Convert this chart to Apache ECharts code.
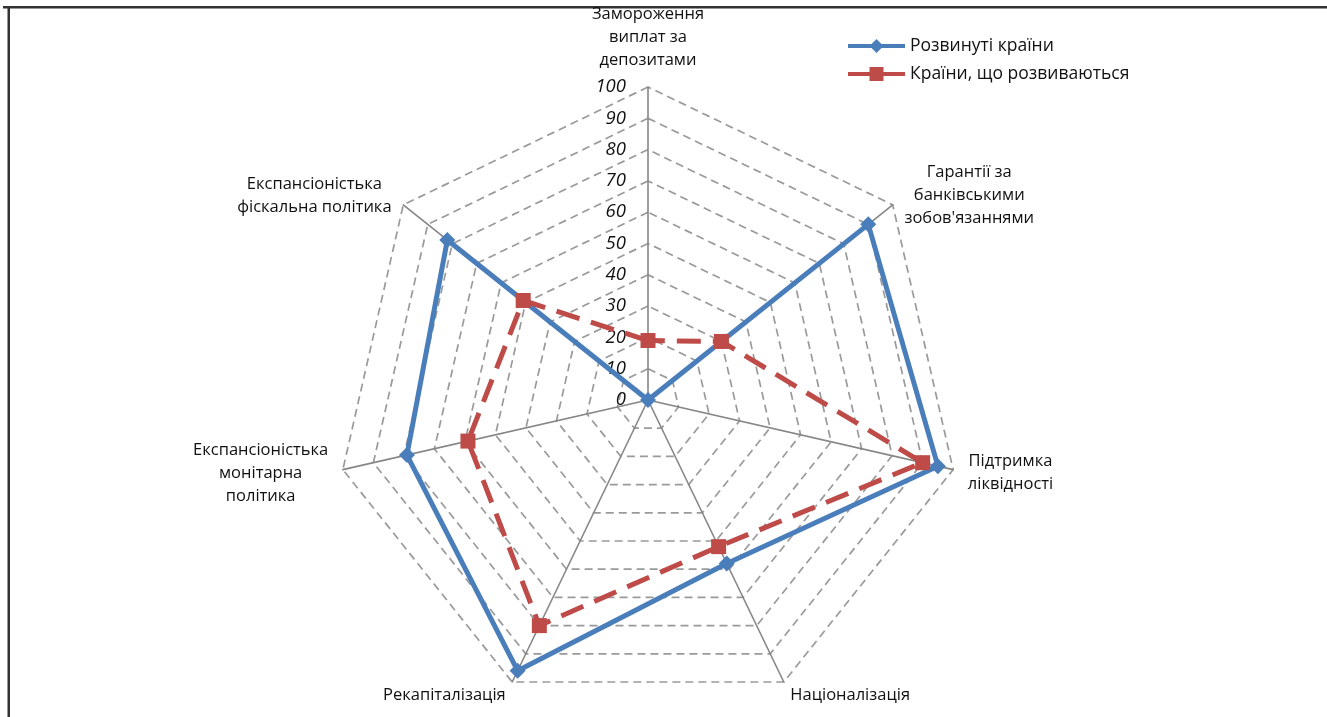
<!DOCTYPE html>
<html>
<head>
<meta charset="utf-8">
<script src="https://cdn.jsdelivr.net/npm/echarts@6/dist/echarts.min.js"></script>
<style>
  html, body { margin: 0; padding: 0; background: #ffffff; }
  #chart { width: 1327px; height: 717px; }
</style>
</head>
<body>
<div id="chart"></div>
<script>
// Anti-crisis measures, listed counter-clockwise from the top axis
const categories = [
  'Замороження\nвиплат за\nдепозитами',
  'Експансіоністька\nфіскальна політика',
  'Експансіоністька\nмонітарна\nполітика',
  'Рекапіталізація',
  'Націоналізація',
  'Підтримка\nліквідності',
  'Гарантії за\nбанківськими\nзобов\'язаннями'
];
const developedName = 'Розвинуті країни';
const developingName = 'Країни, що розвиваються';
const developedValues = [0, 82, 79, 96, 58, 95, 90];
const developingValues = [19, 51, 59, 80, 52, 90, 30];
const axisMax = 100;
const axisStep = 10;

const blue = '#4a7ebb';
const red = '#be4b48';

// Legend icons: a thick line with the series marker in the middle
const iconDiamond = 'path://M0 5 H57 V9 H0 Z M28.5 0 L35.5 7 L28.5 14 L21.5 7 Z';
const iconSquare = 'path://M0 5 H57 V9 H0 Z M21.5 0 H35.5 V14 H21.5 Z';

const chart = echarts.init(document.getElementById('chart'), null, { renderer: 'canvas', width: 1327, height: 717 });

const indicator = categories.map(function (name, i) {
  const item = { name: name, min: 0, max: axisMax };
  if (i === 0) {
    item.axisLabel = { show: true };
  }
  return item;
});

function centeredLines(name) {
  return name.split('\n').map(function (s) { return '{c|' + s + '}'; }).join('\n');
}

chart.setOption({
  backgroundColor: '#ffffff',
  animation: false,
  legend: {
    orient: 'vertical',
    left: 843,
    top: 31,
    itemWidth: 57,
    itemHeight: 14,
    itemGap: 8,
    textStyle: { fontFamily: 'Open Sans', fontSize: 17.5, lineHeight: 20, color: '#111111' },
    data: [
      { name: developedName, icon: iconDiamond, itemStyle: { color: blue, borderWidth: 0 } },
      { name: developingName, icon: iconSquare, itemStyle: { color: red, borderWidth: 0 } }
    ]
  },
  radar: {
    center: [648, 400],
    radius: 313,
    startAngle: 90,
    shape: 'polygon',
    splitNumber: axisMax / axisStep,
    indicator: indicator,
    nameGap: 15,
    axisName: {
      formatter: centeredLines,
      color: '#111111',
      fontFamily: 'Open Sans',
      fontSize: 16.5,
      lineHeight: 23,
      rich: {
        c: { align: 'center', fontFamily: 'Open Sans', fontSize: 16.5, lineHeight: 23, color: '#111111' }
      }
    },
    axisLine: { lineStyle: { color: '#868686', width: 1.6 } },
    axisTick: { show: false },
    axisLabel: {
      show: false,
      margin: 22,
      color: '#111111',
      fontFamily: 'Open Sans',
      fontStyle: 'italic',
      fontSize: 18.5
    },
    splitLine: { lineStyle: { color: '#9a9a9a', width: 1.7, type: [8, 5] } },
    splitArea: { show: false }
  },
  series: [{
    type: 'radar',
    symbolKeepAspect: true,
    data: [
      {
        name: developedName,
        value: developedValues,
        symbol: 'diamond',
        symbolSize: 16,
        itemStyle: { color: blue },
        lineStyle: { color: blue, width: 5, type: 'solid' }
      },
      {
        name: developingName,
        value: developingValues,
        symbol: 'rect',
        symbolSize: 15,
        itemStyle: { color: red },
        lineStyle: { color: red, width: 5, type: [24, 12] }
      }
    ]
  }],
  graphic: [
    { type: 'rect', shape: { x: 3, y: 6, width: 1324, height: 2.5 }, style: { fill: '#333333' }, silent: true },
    { type: 'rect', shape: { x: 7.5, y: 6, width: 2.5, height: 711 }, style: { fill: '#333333' }, silent: true }
  ]
});
</script>
</body>
</html>
